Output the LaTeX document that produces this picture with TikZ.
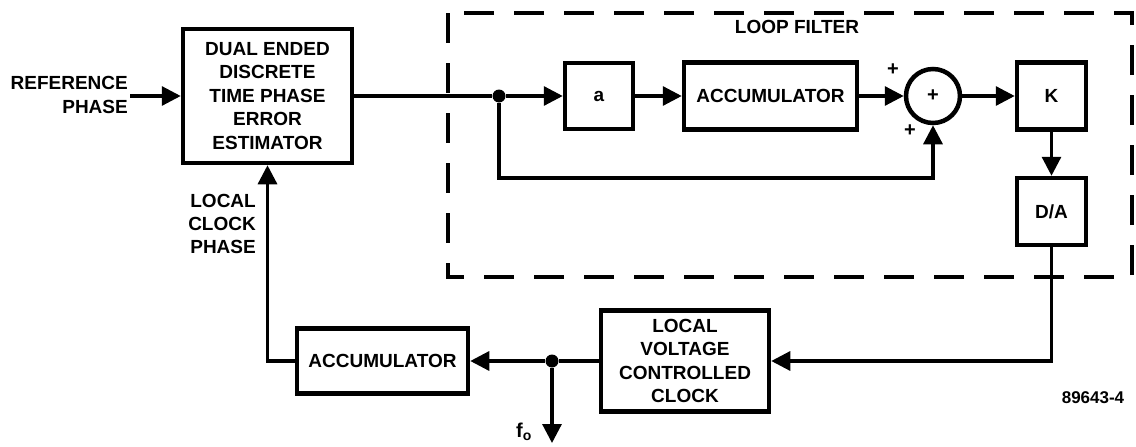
\documentclass[tikz,border=0pt]{standalone}
\usepackage{fontspec}
\setmainfont{Liberation Sans}
\usetikzlibrary{arrows.meta}
\begin{document}
\begin{tikzpicture}[x=1pt,y=-1pt,
  txt/.style={font=\fontsize{19}{23.5}\selectfont\bfseries, inner sep=0pt},
  blk/.style={draw, line width=4.5pt, txt, align=center, minimum width=#1},
  conn/.style={line width=3.2pt},
  arr/.style={conn, -{Triangle[length=19pt,width=19pt]}},
  dot/.style={circle, fill, inner sep=0pt, minimum size=13pt},
  small/.style={font=\fontsize{20}{22}\selectfont\bfseries, inner sep=0pt}]
\useasboundingbox (0,0) rectangle (1136,447);
% loop filter frame
\draw[line width=4.5pt, dash pattern=on 30pt off 20pt] (448,13) rectangle (1132,277);
\node[txt] (lf) at (797,27) {LOOP FILTER};
% blocks
\node[blk=169pt, minimum height=134pt] (est) at (267.5,96)
  {DUAL ENDED\\DISCRETE\\TIME PHASE\\ERROR\\ESTIMATOR};
\node[blk=68pt, minimum height=66pt] (a) at (599,96) {a};
\node[blk=173pt, minimum height=67pt] (acc1) at (770.5,96) {ACCUMULATOR};
\node[draw, circle, line width=4.5pt, minimum size=54pt, inner sep=0pt, small] (sum) at (933,96) {+};
\node[blk=69pt, minimum height=67pt] (K) at (1051.5,96) {K};
\node[blk=69pt, minimum height=67pt] (DA) at (1051.5,211.5) {D/A};
\node[blk=168pt, minimum height=101pt] (vcc) at (685,361)
  {LOCAL\\VOLTAGE\\CONTROLLED\\CLOCK};
\node[blk=171pt, minimum height=65pt] (acc2) at (382.5,361) {ACCUMULATOR};
% labels
\node[txt, align=right, anchor=east] (ref) at (128,95) {REFERENCE\\PHASE};
\node[txt, align=right, anchor=east, font=\fontsize{19}{23}\selectfont\bfseries] (lcp) at (256,224) {LOCAL\\CLOCK\\PHASE};
\node[small] (p1) at (893,70) {+};
\node[small] (p2) at (910,131) {+};
\node[small, font=\fontsize{20}{22}\selectfont\bfseries] (fol) at (524,432) {f$_\mathbf{o}$};
\node[small, font=\fontsize{17}{19}\selectfont\bfseries] (id) at (1093,398) {89643-4};
% junctions and free ends
\node[dot] (j1) at (499,96) {};
\node[dot] (j2) at (552,361) {};
\coordinate (in) at (130,96);
\coordinate (fb) at (933,178);
\coordinate (fo) at (552,443);
% connectors
\draw[arr] (in) -- (est.west);
\draw[conn] (est.east) -- (j1);
\draw[arr] (j1) -- (a.west);
\draw[arr] (a.east) -- (acc1.west);
\draw[arr] (acc1.east) -- (sum.west);
\draw[arr] (sum.east) -- (K.west);
\draw[arr] (K.south) -- (DA.north);
\draw[arr] (j1) |- (fb) -- (sum.south);
\draw[arr] (DA.south) |- (vcc.east);
\draw[conn] (vcc.west) -- (j2);
\draw[arr] (j2) -- (acc2.east);
\draw[arr] (j2) -- (fo);
\draw[arr] (acc2.west) -| (est.south);
\end{tikzpicture}
\end{document}
